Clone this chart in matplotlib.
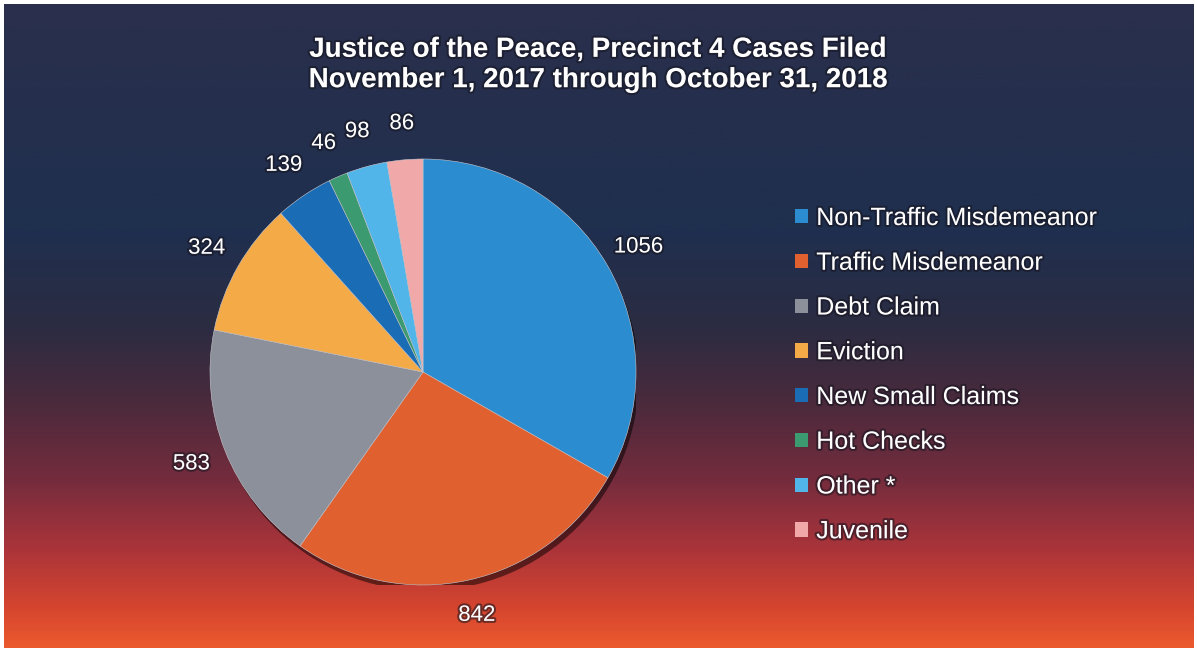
import numpy as np
import matplotlib
matplotlib.use('Agg')
from matplotlib import pyplot as plt
from matplotlib.colors import LinearSegmentedColormap
from matplotlib.patches import Circle
import matplotlib.patheffects as pe

# data
categories = ['Non-Traffic Misdemeanor', 'Traffic Misdemeanor', 'Debt Claim', 'Eviction',
              'New Small Claims', 'Hot Checks', 'Other *', 'Juvenile']
cases = [1056, 842, 583, 324, 139, 46, 98, 86]
colors = ['#2b8ccf', '#e0612f', '#8b909a', '#f3aa47', '#1a6db4', '#3b9a70', '#52b5ea', '#f0a9a8']

title = 'Justice of the Peace, Precinct 4 Cases Filed\nNovember 1, 2017 through October 31, 2018'

plt.rcParams['font.family'] = ['Liberation Sans', 'DejaVu Sans']

W, H = 1197, 652
fig = plt.figure(figsize=(W / 100, H / 100), dpi=100, facecolor='white')

# gradient background: navy at top into red/orange at bottom
bg = fig.add_axes([0.003, 0.006, 0.994, 0.988])
bg_cmap = LinearSegmentedColormap.from_list('bg', [
    (0.0, '#2a2f4c'), (0.35, '#1f2f4f'), (0.50, '#2b2c42'), (0.62, '#4a2a3c'),
    (0.74, '#742c3d'), (0.85, '#ab343a'), (0.94, '#d5452f'), (1.0, '#ea592d')])
grad = np.linspace(0, 1, 400).reshape(-1, 1)
bg.imshow(grad, aspect='auto', cmap=bg_cmap, extent=[0, 1, 0, 1], origin='upper')
bg.set_axis_off()

glow = [pe.withStroke(linewidth=3, foreground='#15141f', alpha=0.55)]

fig.text(598 / W, 1 - 65 / H, title, ha='center', va='center', color='white',
         fontsize=20, fontweight='bold', linespacing=1.22, path_effects=glow)

# pie
cx, cy, r = 423, 372, 213
ax = fig.add_axes([(cx - r) / W, (H - cy - r) / H, 2 * r / W, 2 * r / H])
# one soft shadow under the whole pie
shadow = Circle((0, 0), 1.0, facecolor='black', zorder=0,
                path_effects=[pe.SimplePatchShadow(offset=(2, -4), shadow_rgbFace='black', alpha=0.5)])
ax.add_patch(shadow)
wedges, texts = ax.pie(cases, labels=[str(v) for v in cases], colors=colors,
                       startangle=90, counterclock=False, radius=1,
                       labeldistance=1.17,
                       wedgeprops=dict(edgecolor='#c8c8d0', linewidth=0.4),
                       textprops=dict(color='white', fontsize=16))
for t in texts:
    t.set_ha('center')
    t.set_path_effects(glow)
ax.set_xlim(-1, 1)
ax.set_ylim(-1, 1)
ax.set_axis_off()

leg = fig.legend(wedges, categories, loc='upper left', bbox_to_anchor=(785 / W, 1 - 196 / H),
                 frameon=False, fontsize=18, handlelength=0.5, handleheight=0.5,
                 handletextpad=0.35, labelspacing=0.83, borderaxespad=0)
for t in leg.get_texts():
    t.set_color('white')
    t.set_path_effects(glow)
for h in leg.legend_handles:
    h.set_edgecolor('none')

fig.savefig('out.png', dpi=100, facecolor='white')
